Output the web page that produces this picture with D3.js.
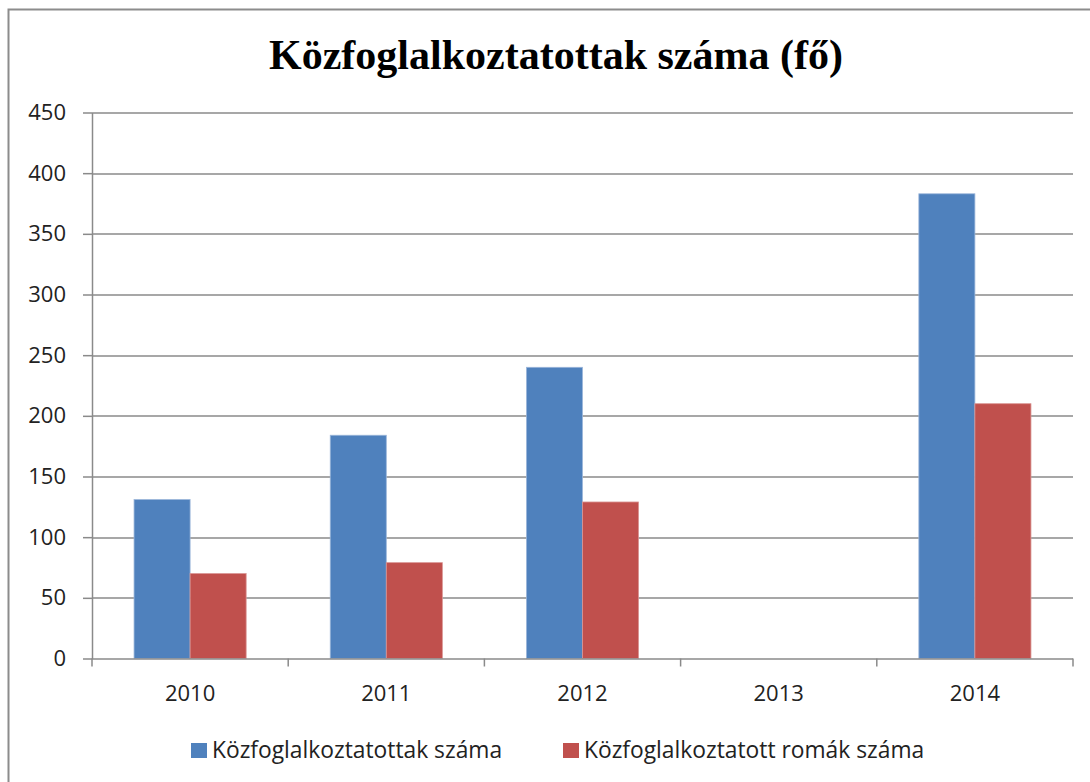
<!DOCTYPE html>
<html>
<head>
<meta charset="utf-8">
<script src="https://cdn.jsdelivr.net/npm/d3@7"></script>
<style>
  body { margin: 0; background: #fff; }
  svg { display: block; }
</style>
</head>
<body>
<div id="chart"></div>
<script>
// data
var years = ["2010", "2011", "2012", "2013", "2014"];
var seriesNames = ["Közfoglalkoztatottak száma", "Közfoglalkoztatott romák száma"];
var workers = [131, 184, 240, null, 383];
var romaWorkers = [70, 79, 129, null, 210];
var yTicks = [0, 50, 100, 150, 200, 250, 300, 350, 400, 450];
var colors = ["#4F81BD", "#C0504D"];

var W = 1090, H = 782;
var margin = {left: 92, right: 17, top: 112.5, bottom: 123.5};
var iw = W - margin.left - margin.right,
    ih = H - margin.top - margin.bottom;
var labelFont = "'Open Sans', Lato, sans-serif";

var svg = d3.select("#chart").append("svg")
  .attr("width", W).attr("height", H);

// outer chart frame (cropped at right/bottom)
svg.append("rect")
  .attr("x", 8.5).attr("y", 9.5)
  .attr("width", W + 20).attr("height", H + 20)
  .attr("fill", "none")
  .attr("stroke", "#8c8c8c").attr("stroke-width", 2);

// title
svg.append("text")
  .attr("x", 556).attr("y", 69)
  .attr("text-anchor", "middle")
  .style("font-family", "'Liberation Serif', 'Times New Roman', serif")
  .style("font-weight", "bold")
  .style("font-size", "42px")
  .style("fill", "#000")
  .text("Közfoglalkoztatottak száma (fő)");

var g = svg.append("g").attr("transform", "translate(" + margin.left + "," + margin.top + ")");

var x0 = d3.scaleBand().domain(years).range([0, iw]).paddingInner(0).paddingOuter(0);
var x1 = d3.scaleBand().domain([0, 1]).range([0, x0.bandwidth()]).paddingOuter(0.75).paddingInner(0);
var y = d3.scaleLinear().domain([0, 450]).range([ih, 0]);

// horizontal gridlines
g.selectAll(".grid")
  .data(yTicks.filter(function(d){ return d > 0; }))
  .enter().append("line")
  .attr("x1", 0).attr("x2", iw)
  .attr("y1", function(d){ return Math.round(y(d)) + 0.5; })
  .attr("y2", function(d){ return Math.round(y(d)) + 0.5; })
  .attr("stroke", "#8a8a8a").attr("stroke-width", 1.5);

// bars
var rows = years.map(function(yr, i){ return {year: yr, vals: [workers[i], romaWorkers[i]]}; });
var grp = g.selectAll(".grp").data(rows).enter().append("g")
  .attr("transform", function(d){ return "translate(" + x0(d.year) + ",0)"; });
grp.selectAll("rect")
  .data(function(d){ return d.vals.map(function(v, k){ return {k: k, v: v}; }).filter(function(e){ return e.v != null; }); })
  .enter().append("rect")
  .attr("x", function(d){ return x1(d.k); })
  .attr("width", x1.bandwidth())
  .attr("y", function(d){ return y(d.v); })
  .attr("height", function(d){ return ih - y(d.v); })
  .attr("fill", function(d){ return colors[d.k]; })
  .attr("stroke", function(d){ return d.k == 0 ? "#9bb6da" : "#d99593"; })
  .attr("stroke-width", 0.8);

// y axis
var yAxis = g.append("g")
  .call(d3.axisLeft(y).tickValues(yTicks).tickSize(9).tickPadding(17).tickSizeOuter(0));
yAxis.select(".domain").attr("stroke", "#8a8a8a").attr("stroke-width", 1.5);
yAxis.selectAll(".tick line").attr("stroke", "#8a8a8a").attr("stroke-width", 1.5);
yAxis.selectAll(".tick text")
  .style("font-family", labelFont)
  .style("font-size", "22px").style("fill", "#222");

// x axis
var xAxisG = g.append("g").attr("transform", "translate(0," + ih + ")");
xAxisG.append("line").attr("x1", 0).attr("x2", iw).attr("y1", 0.5).attr("y2", 0.5)
  .attr("stroke", "#8a8a8a").attr("stroke-width", 1.5);
xAxisG.selectAll(".xt")
  .data(years.map(function(d){ return x0(d); }).concat([iw]))
  .enter().append("line")
  .attr("x1", function(d){ return d; }).attr("x2", function(d){ return d; })
  .attr("y1", 0).attr("y2", 8)
  .attr("stroke", "#8a8a8a").attr("stroke-width", 1.5);
xAxisG.selectAll(".xl")
  .data(years).enter().append("text")
  .attr("x", function(d){ return x0(d) + x0.bandwidth() / 2; })
  .attr("y", 42)
  .attr("text-anchor", "middle")
  .style("font-family", labelFont)
  .style("font-size", "22px").style("fill", "#222")
  .text(function(d){ return d; });

// legend
var legendX = [191, 563];
var lg = svg.selectAll(".lg").data(seriesNames).enter().append("g")
  .attr("transform", function(d, i){ return "translate(" + legendX[i] + ",743)"; });
lg.append("rect").attr("width", 16).attr("height", 15)
  .attr("fill", function(d, i){ return colors[i]; });
lg.append("text").attr("x", 21).attr("y", 15)
  .style("font-family", labelFont)
  .style("font-size", "22.8px").style("fill", "#222")
  .text(function(d){ return d; });
</script>
</body>
</html>
